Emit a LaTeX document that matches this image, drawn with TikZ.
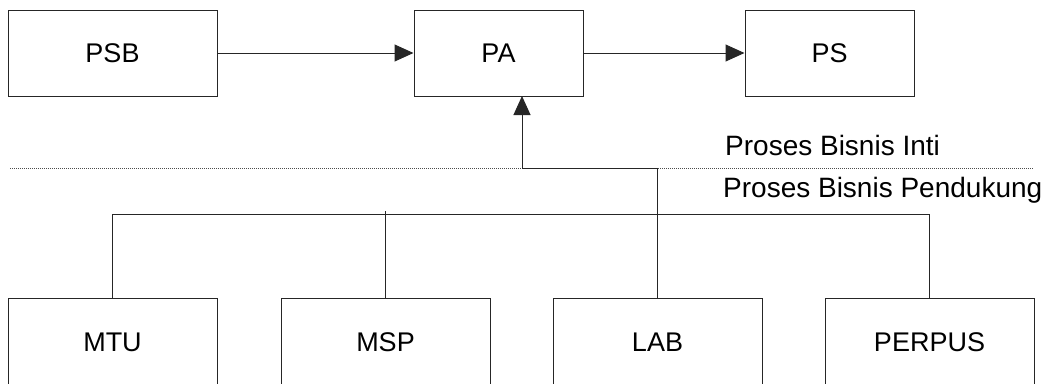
\documentclass[tikz,border=0pt]{standalone}
\usepackage{fontspec}
\setmainfont{Liberation Sans}
\usetikzlibrary{arrows.meta}
\begin{document}
\begin{tikzpicture}[x=1pt,y=-1pt,
  box/.style={draw=black!85,line width=1pt,minimum width=209pt,minimum height=86pt,inner sep=0pt,font=\fontsize{27}{30}\selectfont},
  boxs/.style={box,minimum width=169pt},
  conn/.style={draw=black!85,line width=1pt},
  arr/.style={conn,-{Triangle[length=19pt,width=17pt]}},
  lbl/.style={anchor=west,inner sep=0pt,font=\fontsize{28}{30}\selectfont}]
\useasboundingbox (0,0) rectangle (1046,383);
% top row
\node[box] (PSB) at (112.5,53) {PSB};
\node[boxs] (PA) at (498.5,53) {PA};
\node[boxs] (PS) at (829.5,53) {PS};
% bottom row
\node[box,minimum height=88pt] (MTU) at (112.5,342) {MTU};
\node[box,minimum height=88pt] (MSP) at (385.5,342) {MSP};
\node[box,minimum height=88pt] (LAB) at (657.5,342) {LAB};
\node[box,minimum height=88pt] (PERPUS) at (929.5,342) {PERPUS};
% separator
\coordinate (sepL) at (10,168);
\coordinate (sepR) at (1033,168);
\draw[black!70,line width=0.8pt,dash pattern=on 1pt off 1pt] (sepL) -- (sepR);
\node[lbl] (inti) at (725,145) {Proses Bisnis Inti};
\node[lbl] (pend) at (723,190) {Proses Bisnis Pendukung};
% arrows
\draw[arr] (PSB.east) -- (PA.west);
\draw[arr] (PA.east) -- (PS.west);
\coordinate (j1) at (657.5,168);
\coordinate (j2) at (522,168);
\coordinate (paIn) at (522,96);
\draw[conn] (LAB.north) -- (j1) -- (j2);
\draw[arr] (j2) -- (paIn);
% bus
\coordinate (busL) at (112.5,214);
\coordinate (busR) at (929.5,214);
\coordinate (mspTop) at (385.5,211);
\draw[conn] (MTU.north) -- (busL) -- (busR) -- (PERPUS.north);
\draw[conn] (MSP.north) -- (mspTop);
\end{tikzpicture}
\end{document}
